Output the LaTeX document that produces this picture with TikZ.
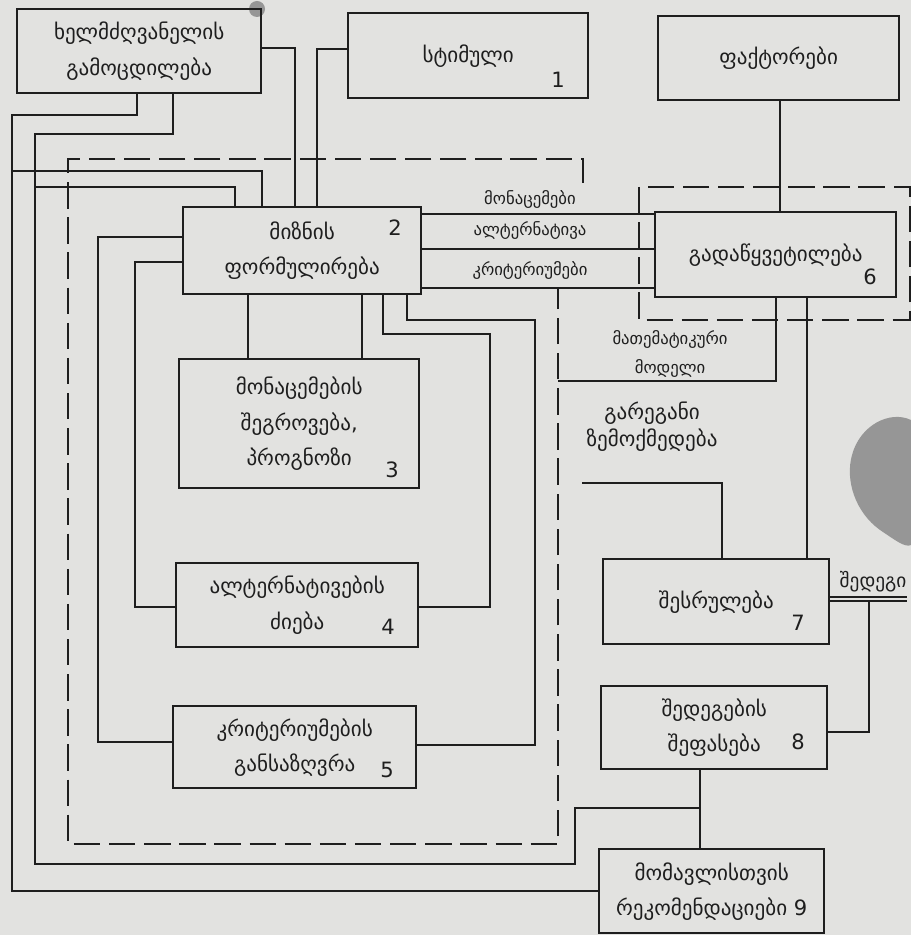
\documentclass[tikz,border=0pt]{standalone}
\usepackage{fontspec}
\newfontfamily\geo{DejaVu Sans}
\definecolor{ink}{RGB}{30,30,30}
\definecolor{paper}{RGB}{226,226,224}
\definecolor{stain}{RGB}{150,150,150}
\tikzset{
  blk/.style={draw=ink, line width=1.4pt, anchor=north west, inner sep=0pt, align=center, text=ink, font=\geo\fontsize{12}{20}\selectfont},
  wire/.style={draw=ink, line width=1.3pt},
  frame/.style={draw=ink, line width=1.3pt, dash pattern=on 15pt off 5pt},
  num/.style={text=ink, font=\geo\fontsize{12}{14}\selectfont},
  tag/.style={text=ink, align=center, font=\geo\fontsize{9.5}{16}\selectfont},
  txt/.style={text=ink, align=center, font=\geo\fontsize{12}{15.5}\selectfont}
}

\begin{document}
\begin{tikzpicture}[x=0.02cm, y=-0.02cm]
  \useasboundingbox (0,0) rectangle (911,935);
  \fill[paper] (0,0) rectangle (911,935);
  %% stains of the scan
  \fill[stain] (911,420) .. controls (890,410) and (860,425) .. (852,455)
    .. controls (845,480) and (855,512) .. (880,530)
    .. controls (895,540) and (905,548) .. (911,545) -- cycle;
  \fill[stain] (257,9) circle[radius=0.16cm];

  %% blocks
  \node[blk, minimum width=4.88cm, minimum height=1.68cm] (exp) at (16,8) {ხელმძღვანელის\\გამოცდილება};
  \node[blk, minimum width=4.8cm, minimum height=1.7cm] (stim) at (347,12) {სტიმული};
  \node[blk, minimum width=4.82cm, minimum height=1.68cm] (fact) at (657,15) {ფაქტორები};
  \node[blk, minimum width=4.76cm, minimum height=1.74cm] (goal) at (182,206) {მიზნის\\ფორმულირება};
  \node[blk, minimum width=4.82cm, minimum height=1.7cm] (dec) at (654,211) {გადაწყვეტილება};
  \node[blk, minimum width=4.8cm, minimum height=2.58cm] (data) at (178,358) {მონაცემების\\შეგროვება,\\პროგნოზი};
  \node[blk, minimum width=4.84cm, minimum height=1.68cm] (alt) at (175,562) {ალტერნატივების\\ძიება};
  \node[blk, minimum width=4.86cm, minimum height=1.64cm] (crit) at (172,705) {კრიტერიუმების\\განსაზღვრა};
  \node[blk, minimum width=4.52cm, minimum height=1.7cm] (exec) at (602,558) {შესრულება};
  \node[blk, minimum width=4.52cm, minimum height=1.66cm] (eval) at (600,685) {შედეგების\\შეფასება};
  \node[blk, minimum width=4.5cm, minimum height=1.68cm] (rec) at (598,848) {მომავლისთვის\\რეკომენდაციები 9};

  %% block numbers
  \node[num] (n1) at (558,80) {1};
  \node[num] (n2) at (395,228) {2};
  \node[num] (n3) at (392,470) {3};
  \node[num] (n4) at (388,627) {4};
  \node[num] (n5) at (387,770) {5};
  \node[num] (n6) at (870,277) {6};
  \node[num] (n7) at (798,623) {7};
  \node[num] (n8) at (798,742) {8};

  %% dashed frames
  \draw[frame] (583,183) -- (583,159) -- (68,159) -- (68,844) -- (558,844) -- (558,288);
  \draw[frame] (639,187) rectangle (910,320);

  %% feedback from experience
  \draw[wire] (137,0 |- exp.south) -- (137,115) -- (12,115) -- (12,0 |- rec.west) -- (rec.west);
  \draw[wire] (173,0 |- exp.south) -- (173,134) -- (35,134) -- (35,864) -- (575,864) -- (575,808) -- (700,808);
  \draw[wire] (12,171) -- (262,171) -- (262,0 |- goal.north);
  \draw[wire] (35,187) -- (235,187) -- (235,0 |- goal.north);
  \draw[wire] (exp.east |- 0,48) -- (295,48) -- (295,0 |- goal.north);
  \draw[wire] (stim.west |- 0,49) -- (317,49) -- (317,0 |- goal.north);
  \draw[wire] (780,0 |- fact.south) -- (780,0 |- dec.north);

  %% goal to decision
  \foreach \yy in {214,249,288}
    \draw[wire] (goal.east |- 0,\yy) -- (dec.west |- 0,\yy);
  \node[tag] (lData) at (530,199) {მონაცემები};
  \node[tag] (lAlt) at (530,231) {ალტერნატივა};
  \node[tag] (lCrit) at (530,270) {კრიტერიუმები};
  \draw[wire] (558,381) -- (776,381) -- (776,0 |- dec.south);
  \node[tag] (lModel) at (670,354) {მათემატიკური\\მოდელი};

  %% goal to stages 3, 4, 5
  \draw[wire] (248,0 |- goal.south) -- (248,0 |- data.north);
  \draw[wire] (362,0 |- goal.south) -- (362,0 |- data.north);
  \draw[wire] (383,0 |- goal.south) -- (383,334) -- (490,334) -- (490,607) -- (alt.east |- 0,607);
  \draw[wire] (407,0 |- goal.south) -- (407,320) -- (535,320) -- (535,745) -- (crit.east |- 0,745);
  \draw[wire] (goal.west |- 0,262) -- (135,262) -- (135,607) -- (alt.west |- 0,607);
  \draw[wire] (goal.west |- 0,237) -- (98,237) -- (98,742) -- (crit.west |- 0,742);

  %% execution and evaluation
  \draw[wire] (807,0 |- dec.south) -- (807,0 |- exec.north);
  \node[txt] (lExt) at (652,427) {გარეგანი\\ზემოქმედება};
  \draw[wire] (582,483) -- (722,483) -- (722,0 |- exec.north);
  \draw[ink, line width=0.8pt, double=paper, double distance=1.6pt] (exec.east |- 0,599) -- (907,599);
  \node[txt, font=\geo\fontsize{11}{13}\selectfont] (lRes) at (873,582) {შედეგი};
  \draw[wire] (869,600) -- (869,732) -- (eval.east |- 0,732);
  \draw[wire] (700,0 |- eval.south) -- (700,0 |- rec.north);
\end{tikzpicture}
\end{document}
